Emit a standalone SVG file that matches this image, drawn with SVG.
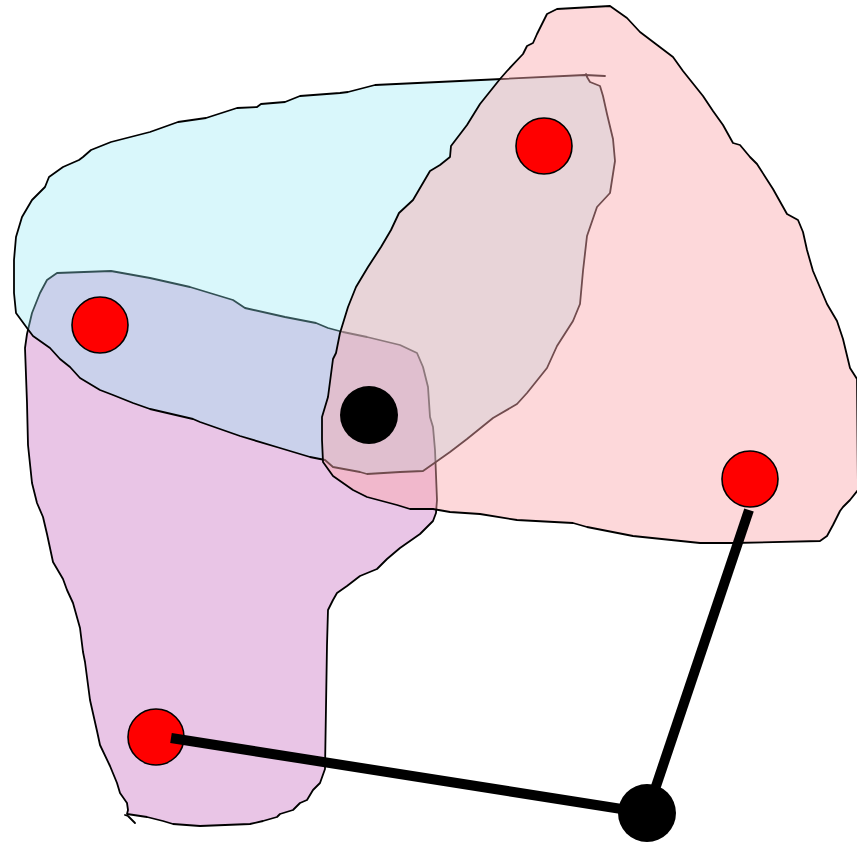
<svg xmlns="http://www.w3.org/2000/svg" width="857" height="842" viewBox="0 0 857 842">
<style>
.blob{stroke:#000;stroke-width:1.8;stroke-linejoin:round;stroke-linecap:round}
.red{fill:#ff0000;stroke:#000;stroke-width:1.6}
.blk{fill:#000}
.edge{stroke:#000;stroke-width:10;stroke-linecap:butt;fill:none}
</style>
<rect width="857" height="842" fill="#fff"/>
<g id="hyperedges">
<g id="purple">
<path class="blob" fill="#e9c5e6" d="M 27,334 L 32,313 L 40,293 L 47,280 L 57,273 L 111,271 L 150,278 L 190,287 L 233,300 L 245,308 L 285,317 L 316,323 L 328,328 L 343,332 L 367,337 L 400,345 L 417,353 L 423,367 L 428,387 L 430,417 L 433,427 L 435,450 L 437,500 L 436,513 L 433,521 L 420,534 L 400,548 L 387,559 L 377,569 L 360,576 L 347,586 L 337,593 L 333,600 L 328,610 L 327,645 L 325,769 L 320,783 L 313,790 L 307,800 L 300,803 L 293,810 L 280,814 L 277,817 L 263,821 L 250,824 L 200,826 L 173,824 L 163,821 L 147,817 L 127,814 L 128,810 L 127,803 L 120,793 L 117,783 L 110,766 L 100,745 L 97,731 L 90,700 L 85,662 L 83,652 L 80,628 L 73,603 L 67,590 L 63,579 L 53,562 L 47,534 L 43,517 L 37,503 L 32,483 L 28,445 L 27,403 L 25,348 Z"/>
<path class="blob" fill="none" d="M 125,815 L 128,816 L 135,823"/>
</g>
<g id="cyan">
<path class="blob" fill="rgb(146,232,243)" fill-opacity="0.35" d="M 605,76 L 585,75 L 502,79 L 375,85 L 348,92 L 340,93 L 300,96 L 285,102 L 261,104 L 257,107 L 237,108 L 206,118 L 178,122 L 150,132 L 111,142 L 91,150 L 83,157 L 79,160 L 63,167 L 49,177 L 45,187 L 32,200 L 22,217 L 16,237 L 14,260 L 14,293 L 16,313 L 27,328 L 33,336 L 50,348 L 60,359 L 70,367 L 80,378 L 100,390 L 113,395 L 133,403 L 150,409 L 193,419 L 200,422 L 240,436 L 280,448 L 310,457 L 325,460 L 333,467 L 360,472 L 367,474 L 400,472 L 423,471 L 433,464 L 450,452 L 467,439 L 493,418 L 517,404 L 527,393 L 547,368 L 557,346 L 573,321 L 580,304 L 583,271 L 587,236 L 597,207 L 610,193 L 615,161 L 613,139 L 607,114 L 603,96 L 600,86 L 590,82 L 587,77 L 586,74"/>
</g>
<g id="pink">
<path class="blob" fill="rgb(250,168,173)" fill-opacity="0.45" d="M 547,14 L 557,9 L 610,6 L 627,18 L 640,32 L 673,57 L 683,71 L 703,96 L 713,111 L 723,125 L 733,143 L 740,145 L 750,157 L 757,164 L 773,189 L 787,214 L 798,220 L 803,232 L 807,250 L 813,271 L 827,304 L 837,321 L 843,339 L 850,368 L 857,379 L 858,490 L 850,500 L 843,507 L 840,511 L 833,525 L 827,536 L 820,541 L 733,543 L 700,543 L 633,536 L 587,527 L 573,523 L 517,520 L 480,514 L 450,512 L 433,509 L 410,509 L 397,505 L 367,497 L 353,490 L 333,476 L 323,462 L 322,440 L 322,417 L 328,397 L 333,359 L 336,353 L 340,333 L 348,307 L 356,287 L 368,267 L 381,247 L 391,230 L 399,213 L 413,200 L 430,171 L 440,165 L 450,157 L 451,146 L 467,125 L 480,104 L 500,79 L 507,71 L 523,54 L 527,46 L 533,43 L 537,34 Z"/>
</g>
</g>
<g id="nodes">
<g id="n1"><circle class="red" cx="544" cy="146" r="28"/></g>
<g id="n2"><circle class="red" cx="100" cy="325" r="28"/></g>
<g id="n3"><circle class="red" cx="750" cy="479" r="28"/></g>
<g id="n4"><circle class="red" cx="156" cy="737" r="28"/></g>
<g id="n5"><circle class="blk" cx="369" cy="415" r="29"/></g>
</g>
<g id="connectors">
<line class="edge" x1="171" y1="738" x2="647" y2="813"/>
<line class="edge" x1="749" y1="510" x2="647" y2="813"/>
</g>
<g id="n6"><circle class="blk" cx="647" cy="813" r="29"/></g>
</svg>
